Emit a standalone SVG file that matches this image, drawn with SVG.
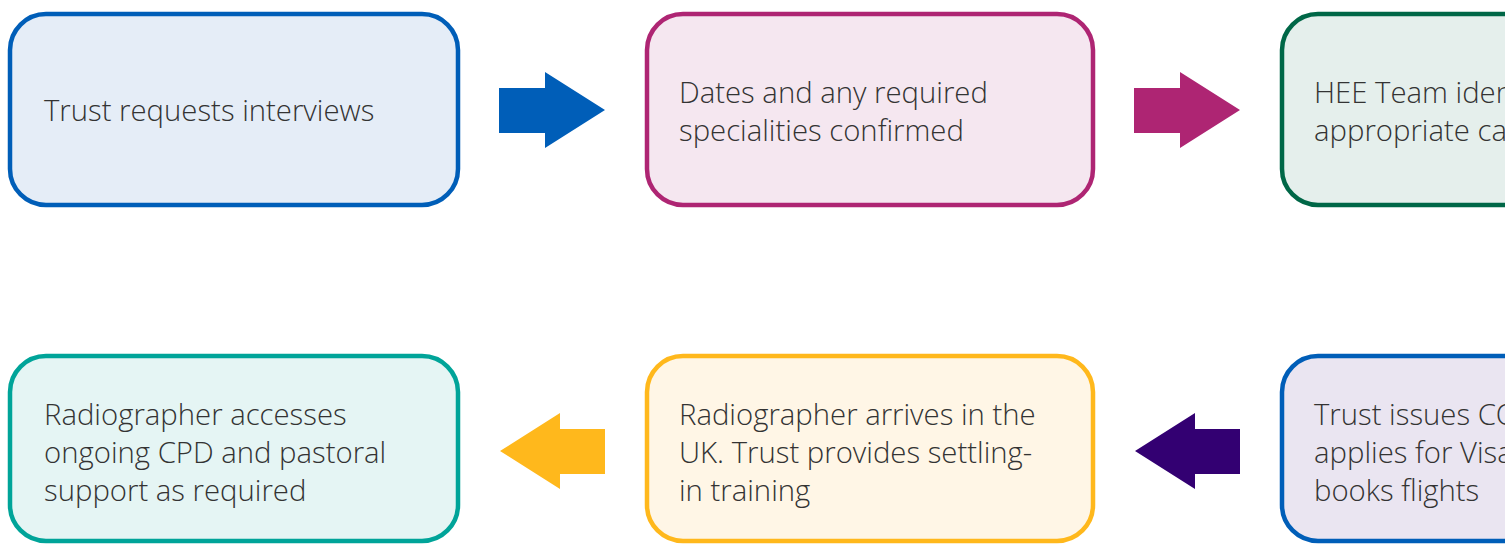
<svg xmlns="http://www.w3.org/2000/svg" width="1505" height="544" viewBox="0 0 1505 544">
<style>
.box{stroke-width:4.5}
.t{font-family:"Open Sans","Noto Sans","Liberation Sans",sans-serif;font-size:29.3px;font-weight:300;fill:#333333}
</style>
<rect width="1505" height="544" fill="#ffffff"/>
<g id="node-trust-requests">
<rect class="box" x="10" y="14" width="448" height="191" rx="36" fill="#E5EDF7" stroke="#005EB8"/>
<text class="t" x="44" y="121">Trust requests interviews</text>
</g>
<g id="node-dates-confirmed">
<rect class="box" x="647" y="14" width="446" height="191" rx="36" fill="#F5E7F0" stroke="#AE2573"/>
<text class="t" x="679" y="103">Dates and any required</text>
<text class="t" x="679" y="141">specialities confirmed</text>
</g>
<g id="node-hee-team">
<rect class="box" x="1282" y="14" width="448" height="191" rx="36" fill="#E5EFEC" stroke="#006747"/>
<text class="t" x="1314" y="103">HEE Team identifies</text>
<text class="t" x="1314" y="141">appropriate candidates</text>
</g>
<g id="node-trust-issues-cos">
<rect class="box" x="1282" y="356" width="448" height="185" rx="36" fill="#EAE5F1" stroke="#005EB8"/>
<text class="t" x="1314" y="425">Trust issues COS, candidate</text>
<text class="t" x="1314" y="463">applies for Visa and</text>
<text class="t" x="1314" y="501">books flights</text>
</g>
<g id="node-radiographer-arrives">
<rect class="box" x="647" y="356" width="446" height="185" rx="36" fill="#FFF6E6" stroke="#FFB81C"/>
<text class="t" x="679" y="425">Radiographer arrives in the</text>
<text class="t" x="679" y="463">UK. Trust provides settling-</text>
<text class="t" x="679" y="501">in training</text>
</g>
<g id="node-radiographer-cpd">
<rect class="box" x="10" y="356" width="448" height="185" rx="36" fill="#E5F5F4" stroke="#00A499"/>
<text class="t" x="44" y="425">Radiographer accesses</text>
<text class="t" x="44" y="463">ongoing CPD and pastoral</text>
<text class="t" x="44" y="501">support as required</text>
</g>
<g id="connectors">
<polygon points="499,88 545,88 545,72 605,110 545,148 545,133 499,133" fill="#005EB8"/>
<polygon points="1134,88 1180,88 1180,72 1240,110 1180,148 1180,133 1134,133" fill="#AE2573"/>
<polygon points="1240,429 1195,429 1195,413 1135,451 1195,489 1195,474 1240,474" fill="#330072"/>
<polygon points="605,429 560,429 560,413 500,451 560,489 560,474 605,474" fill="#FFB81C"/>
</g>
</svg>
